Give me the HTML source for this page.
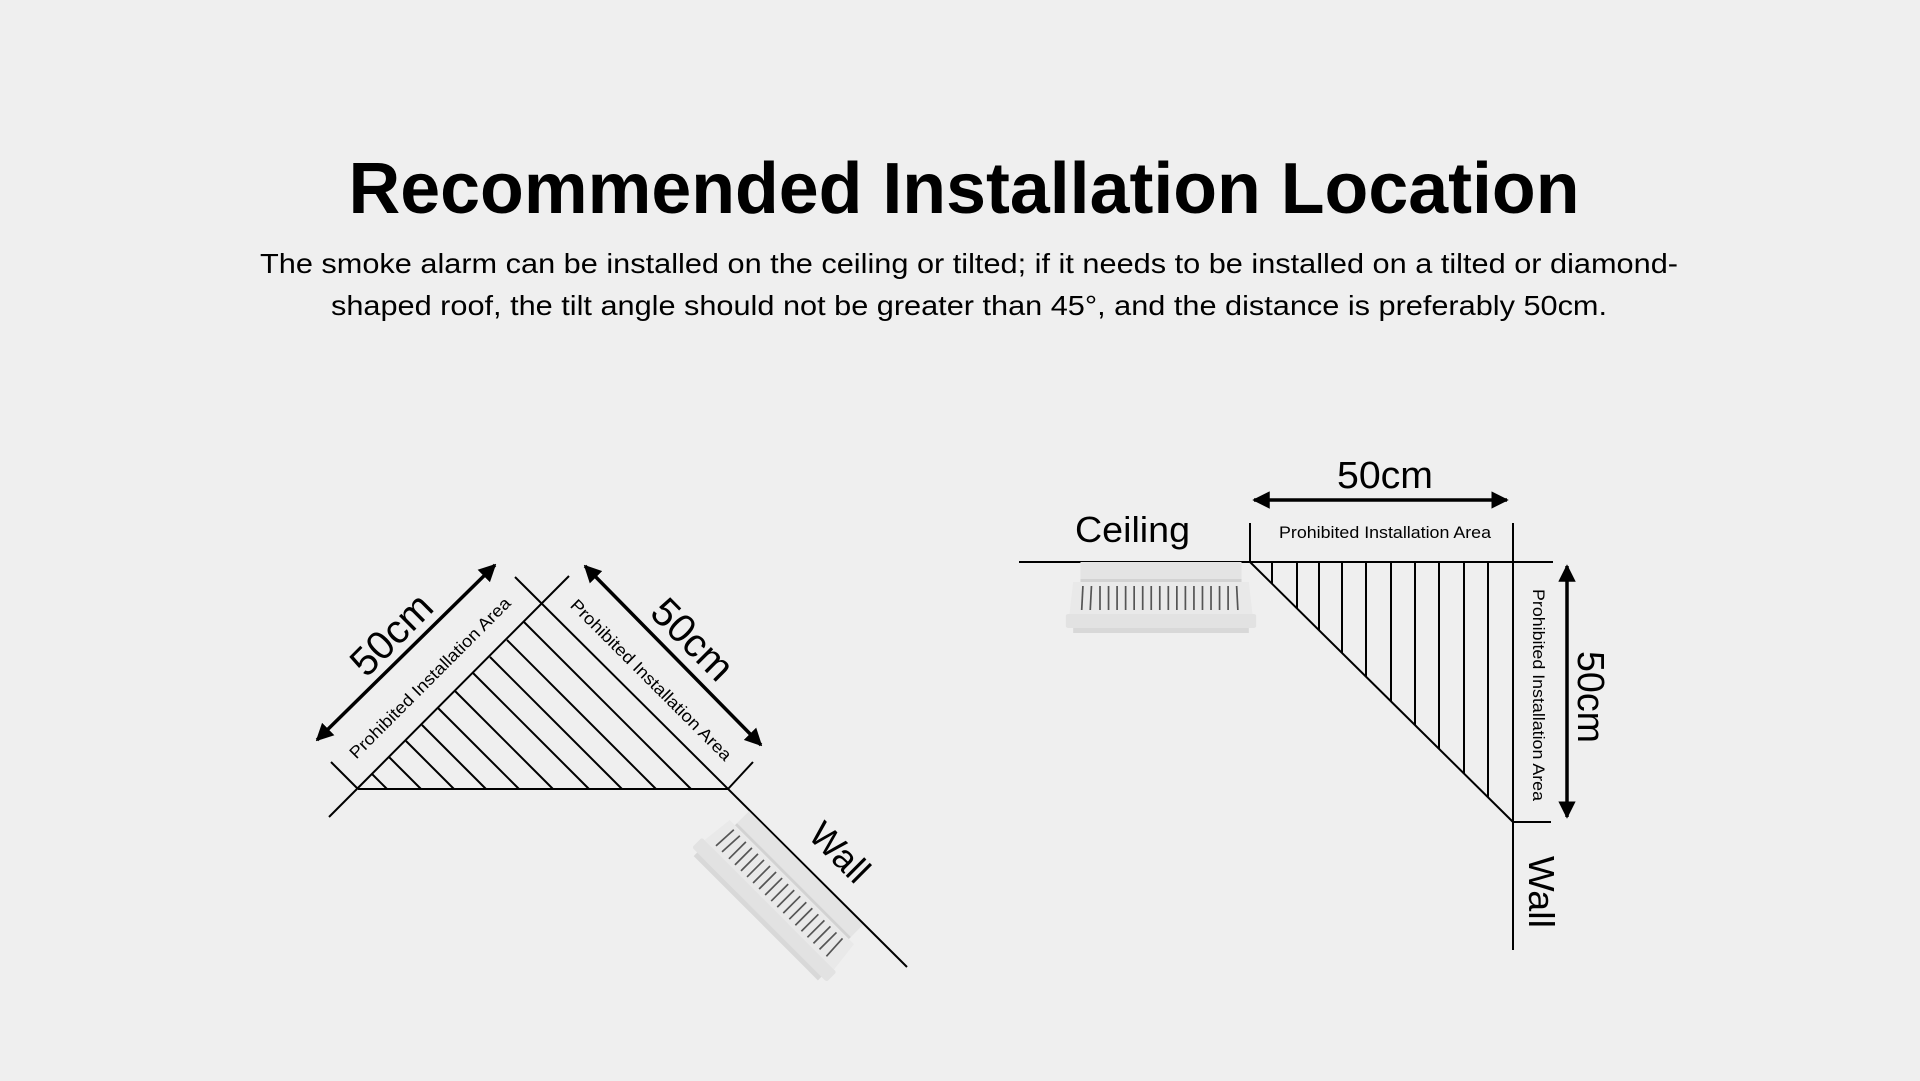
<!DOCTYPE html>
<html><head><meta charset="utf-8"><style>
html,body{margin:0;padding:0;background:#efefef;}
svg{display:block;}
text{font-family:"Liberation Sans",Arial,sans-serif;fill:#000;}
</style></head><body>
<svg width="1920" height="1081" viewBox="0 0 1920 1081" xmlns="http://www.w3.org/2000/svg">
<defs>
<marker id="ah" viewBox="0 0 10 10" refX="9" refY="5" markerWidth="5" markerHeight="5" orient="auto-start-reverse" markerUnits="strokeWidth">
<path d="M0,0 L10,5 L0,10 z" fill="#000"/>
</marker>
<g id="det">
<rect x="-66" y="0" width="132" height="17" fill="#e4e4e4"/>
<rect x="-66" y="17" width="132" height="3" fill="#d2d2d2"/>
<path d="M-72,20 L72,20 L75,52 L-75,52 z" fill="#e9e9e9"/>
<g stroke="#555" stroke-width="1.4">
<line x1="-64" y1="24" x2="-65" y2="48"/><line x1="-57" y1="24" x2="-58" y2="48"/><line x1="-50" y1="24" x2="-50" y2="48"/><line x1="-43" y1="24" x2="-43" y2="48"/><line x1="-36" y1="24" x2="-36" y2="48"/><line x1="-29" y1="24" x2="-29" y2="48"/><line x1="-22" y1="24" x2="-22" y2="48"/><line x1="-15" y1="24" x2="-15" y2="48"/><line x1="-8" y1="24" x2="-8" y2="48"/><line x1="-1" y1="24" x2="-1" y2="48"/><line x1="6" y1="24" x2="6" y2="48"/><line x1="13" y1="24" x2="13" y2="48"/><line x1="20" y1="24" x2="20" y2="48"/><line x1="27" y1="24" x2="27" y2="48"/><line x1="34" y1="24" x2="34" y2="48"/><line x1="41" y1="24" x2="41" y2="48"/><line x1="48" y1="24" x2="48" y2="48"/><line x1="55" y1="24" x2="55" y2="48"/><line x1="62" y1="24" x2="63" y2="48"/>
</g>
<rect x="-78" y="52" width="156" height="14" rx="2" fill="#e2e2e2"/>
<rect x="-72" y="66" width="144" height="5" fill="#d8d8d8"/>
</g>
</defs>

<!-- Title -->
<text x="964" y="213" text-anchor="middle" font-size="72" font-weight="bold" textLength="1231" lengthAdjust="spacingAndGlyphs">Recommended Installation Location</text>
<text x="969" y="273" text-anchor="middle" font-size="28" textLength="1418" lengthAdjust="spacingAndGlyphs">The smoke alarm can be installed on the ceiling or tilted; if it needs to be installed on a tilted or diamond-</text>
<text x="969" y="315" text-anchor="middle" font-size="28" textLength="1276" lengthAdjust="spacingAndGlyphs">shaped roof, the tilt angle should not be greater than 45°, and the distance is preferably 50cm.</text>

<!-- Right diagram -->
<g stroke="#000" stroke-width="2" fill="none">
<line x1="1019" y1="562" x2="1553" y2="562"/>
<line x1="1250" y1="523" x2="1250" y2="562"/>
<line x1="1513" y1="523" x2="1513" y2="950"/>
<line x1="1250" y1="562" x2="1513" y2="822"/>
<line x1="1513" y1="822" x2="1551" y2="822"/>
<line x1="1272" y1="562" x2="1272" y2="584"/>
<line x1="1297" y1="562" x2="1297" y2="608"/>
<line x1="1319" y1="562" x2="1319" y2="630"/>
<line x1="1342" y1="562" x2="1342" y2="653"/>
<line x1="1366" y1="562" x2="1366" y2="677"/>
<line x1="1391" y1="562" x2="1391" y2="701"/>
<line x1="1415" y1="562" x2="1415" y2="725"/>
<line x1="1439" y1="562" x2="1439" y2="749"/>
<line x1="1464" y1="562" x2="1464" y2="774"/>
<line x1="1488" y1="562" x2="1488" y2="797"/>
</g>
<g stroke="#000" stroke-width="3.5">
<line x1="1254" y1="500" x2="1507" y2="500" marker-start="url(#ah)" marker-end="url(#ah)"/>
<line x1="1567" y1="566" x2="1567" y2="817" marker-start="url(#ah)" marker-end="url(#ah)"/>
</g>
<text x="1385" y="488" text-anchor="middle" font-size="38" textLength="96" lengthAdjust="spacingAndGlyphs">50cm</text>
<text x="1385" y="538" text-anchor="middle" font-size="17" textLength="212" lengthAdjust="spacingAndGlyphs">Prohibited Installation Area</text>
<text x="1075" y="542" font-size="36" textLength="115" lengthAdjust="spacingAndGlyphs">Ceiling</text>
<text transform="translate(1533,695) rotate(90)" text-anchor="middle" font-size="17" textLength="212" lengthAdjust="spacingAndGlyphs">Prohibited Installation Area</text>
<text transform="translate(1578,697) rotate(90)" text-anchor="middle" font-size="38" textLength="92" lengthAdjust="spacingAndGlyphs">50cm</text>
<text transform="translate(1529,892) rotate(90)" text-anchor="middle" font-size="36" textLength="72" lengthAdjust="spacingAndGlyphs">Wall</text>
<use href="#det" transform="translate(1161,562) scale(1.22,1)"/>

<!-- Left diagram -->
<g stroke="#000" stroke-width="2" fill="none">
<line x1="358" y1="789" x2="728" y2="789"/>
<line x1="515" y1="577" x2="907" y2="967"/>
<line x1="569" y1="576" x2="329" y2="817"/>
<line x1="753" y1="762" x2="728" y2="789"/>
<line x1="331" y1="762" x2="358" y2="789"/>
<line x1="387" y1="789" x2="372" y2="774"/>
<line x1="421" y1="789" x2="389" y2="757"/>
<line x1="454" y1="789" x2="406" y2="741"/>
<line x1="486" y1="789" x2="422" y2="725"/>
<line x1="519" y1="789" x2="438" y2="708"/>
<line x1="553" y1="789" x2="455" y2="691"/>
<line x1="589" y1="789" x2="473" y2="673"/>
<line x1="622" y1="789" x2="490" y2="657"/>
<line x1="656" y1="789" x2="507" y2="640"/>
<line x1="691" y1="789" x2="524" y2="622"/>
</g>
<g stroke="#000" stroke-width="3.5">
<line x1="495" y1="565" x2="317" y2="740" marker-start="url(#ah)" marker-end="url(#ah)"/>
<line x1="585" y1="566" x2="761" y2="745" marker-start="url(#ah)" marker-end="url(#ah)"/>
</g>
<text transform="translate(401,644) rotate(-45)" text-anchor="middle" font-size="40">50cm</text>
<text transform="translate(434,682) rotate(-45)" text-anchor="middle" font-size="17" textLength="220" lengthAdjust="spacingAndGlyphs">Prohibited Installation Area</text>
<text transform="translate(683,649) rotate(45)" text-anchor="middle" font-size="40">50cm</text>
<text transform="translate(647,684) rotate(45)" text-anchor="middle" font-size="17" textLength="220" lengthAdjust="spacingAndGlyphs">Prohibited Installation Area</text>
<text transform="translate(831,861) rotate(45)" text-anchor="middle" font-size="36">Wall</text>
<use href="#det" transform="translate(806,868) rotate(45) scale(1.22,1)"/>
</svg>
</body></html>
